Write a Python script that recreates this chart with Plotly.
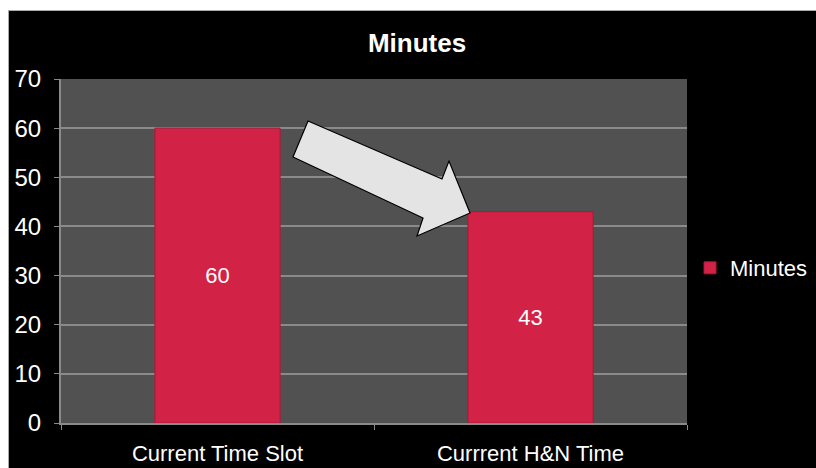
import plotly.graph_objects as go

categories = ["Current Time Slot", "Currrent H&N Time"]
minutes = [60, 43]
series_name = "Minutes"
chart_title = "Minutes"
y_ticks = [0, 10, 20, 30, 40, 50, 60, 70]

W, H = 816, 468
PX_L, PX_R, PX_T, PX_B = 61, 687, 79, 423

def px(x):
    return (x - PX_L) / (PX_R - PX_L)

def py(y):
    return (PX_B - y) / (PX_B - PX_T)

fig = go.Figure()
fig.add_trace(go.Bar(
    x=categories, y=minutes, name=series_name,
    marker=dict(color="#d22246", line=dict(color="#a8193a", width=1)),
    width=0.4,
    text=[str(v) for v in minutes], textposition="inside",
    insidetextanchor="middle",
    textfont=dict(color="white", size=22, family="Liberation Sans"),
    showlegend=True,
))

# decorative block arrow (pixel coordinates)
arrow_pts = [(308, 121), (442, 179), (449, 161), (470, 213),
             (417, 236), (423, 218), (293, 157)]
path = "M " + " L ".join(f"{px(x):.4f},{py(y):.4f}" for x, y in arrow_pts) + " Z"

fig.update_layout(
    width=W, height=H,
    margin=dict(l=PX_L, r=W - PX_R, t=PX_T, b=H - PX_B, pad=0, autoexpand=False),
    paper_bgcolor="black", plot_bgcolor="#515151",
    font=dict(family="Liberation Sans", color="white", size=22),
    title=dict(text="<b>" + chart_title + "</b>", x=417 / W, xanchor="center",
               y=1 - 43 / H, yanchor="middle",
               font=dict(size=26, color="white", family="Liberation Sans")),
    showlegend=True,
    legend=dict(x=px(690), y=py(268), xanchor="left", yanchor="middle",
                font=dict(size=22, color="white"), bgcolor="rgba(0,0,0,0)",
                itemwidth=30),
    xaxis=dict(showgrid=False, showline=True, linecolor="#8a8a8a", linewidth=2,
               ticks="outside", tickcolor="#8a8a8a", ticklen=5, automargin=False,
               tickson="boundaries", ticklabelstandoff=10,
               tickfont=dict(size=22, color="white")),
    yaxis=dict(range=[0, 70], tickvals=y_ticks, showgrid=True, automargin=False,
               gridcolor="#8a8a8a", gridwidth=1.5, showline=True,
               linecolor="#8a8a8a", linewidth=2, ticks="outside",
               tickcolor="#8a8a8a", ticklen=5, zeroline=False,
               ticklabelstandoff=8,
               tickfont=dict(size=24, color="white")),
    shapes=[
        dict(type="path", xref="paper", yref="paper", path=path,
             fillcolor="#e4e4e4", line=dict(color="black", width=1.2), layer="above"),
        dict(type="rect", xref="paper", yref="paper", x0=px(0), x1=px(W),
             y0=py(0), y1=py(10), fillcolor="white", line=dict(width=0), layer="above"),
        dict(type="rect", xref="paper", yref="paper", x0=px(0), x1=px(8),
             y0=py(0), y1=py(H), fillcolor="white", line=dict(width=0), layer="above"),
        dict(type="line", xref="paper", yref="paper", x0=px(8), x1=px(W),
             y0=py(10.5), y1=py(10.5), line=dict(color="#aaaaaa", width=1), layer="above"),
        dict(type="line", xref="paper", yref="paper", x0=px(8.5), x1=px(8.5),
             y0=py(10), y1=py(H), line=dict(color="#aaaaaa", width=1), layer="above"),
    ],
)

fig.write_html(
    "out.html",
    config={"displayModeBar": False},
    post_script="document.body.style.margin='0';document.documentElement.style.margin='0';"
                "document.body.style.overflow='hidden';",
)
